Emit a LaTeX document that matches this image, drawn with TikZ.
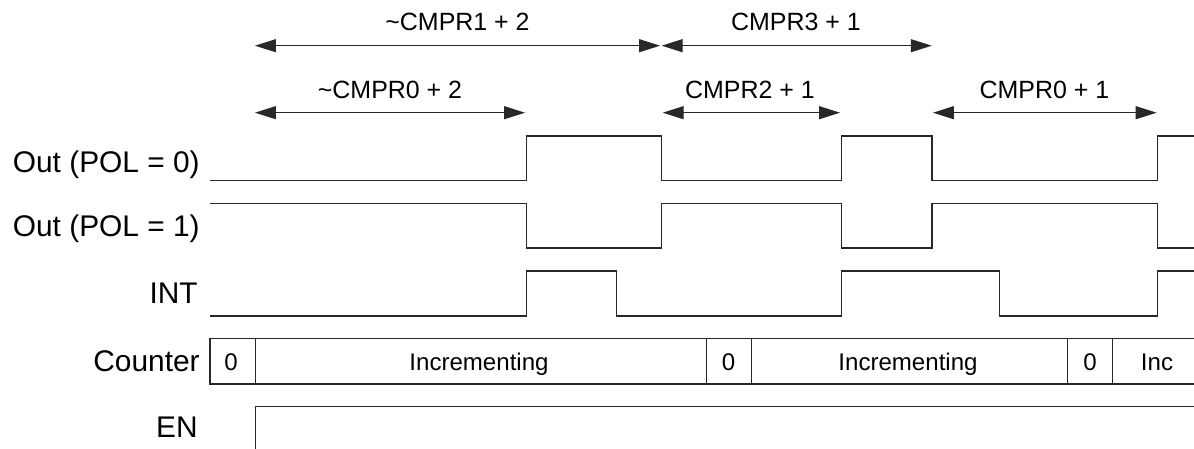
\documentclass[tikz,border=0pt]{standalone}
\usepackage{fontspec}
\setmainfont{Liberation Sans}
\usetikzlibrary{arrows.meta}
\definecolor{linec}{RGB}{40,40,40}
\begin{document}
\begin{tikzpicture}[x=0.02cm,y=-0.02cm,
  wave/.style={draw=linec, line width=0.7pt, line join=miter},
  siglabel/.style={anchor=base east, inner sep=0pt, font=\fontsize{17}{20}\selectfont},
  dimlabel/.style={anchor=base, inner sep=0pt, font=\fontsize{14.2}{17}\selectfont},
  cntlabel/.style={anchor=base, inner sep=0pt, font=\fontsize{13.7}{16}\selectfont},
  dimarrow/.style={draw=linec, line width=0.6pt,
    {Triangle[length=11.9pt,width=7.4pt]}-{Triangle[length=11.9pt,width=7.4pt]}}
]
\useasboundingbox (0,0) rectangle (1194,449);
\begin{scope}
\clip (0,0) rectangle (1194,449);

% signal names
\node[siglabel] (lout0) at (200,173) {Out (POL = 0)};
\node[siglabel] (lout1) at (200,237) {Out (POL = 1)};
\node[siglabel] (lint)  at (198,304) {INT};
\node[siglabel] (lcnt)  at (200,371.5) {Counter};
\node[siglabel] (len)   at (198,438) {EN};

% dimension arrows
\coordinate (a1l) at (255,45.7);   \coordinate (a1r) at (660,45.7);
\coordinate (a2l) at (661.7,45.7); \coordinate (a2r) at (931.7,45.7);
\coordinate (b1l) at (255,112.7);  \coordinate (b1r) at (525,112.7);
\coordinate (b2l) at (662.7,112.7);\coordinate (b2r) at (840,112.7);
\coordinate (b3l) at (933,112.7);  \coordinate (b3r) at (1156.6,112.7);
\draw[dimarrow] (a1l) -- (a1r);
\draw[dimarrow] (a2l) -- (a2r);
\draw[dimarrow] (b1l) -- (b1r);
\draw[dimarrow] (b2l) -- (b2r);
\draw[dimarrow] (b3l) -- (b3r);

\node[dimlabel] (d1) at (457.5,31) {\textasciitilde CMPR1 + 2};
\node[dimlabel] (d2) at (796,31) {CMPR3 + 1};
\node[dimlabel] (d3) at (390,98.5) {\textasciitilde CMPR0 + 2};
\node[dimlabel] (d4) at (750,98.5) {CMPR2 + 1};
\node[dimlabel] (d5) at (1044.5,98.5) {CMPR0 + 1};

% waveforms
\draw[wave] (210,180.5) -| (526.7,136) -| (661.3,180.5) -| (841.7,136)
  -| (932,180.5) -| (1157.6,136) -- (1200,136);
\draw[wave] (210,203.5) -| (526.7,248) -| (661.3,203.5) -| (841.7,248)
  -| (932,203.5) -| (1157.6,248) -- (1200,248);
\draw[wave] (210,316) -| (526.7,271) -| (616.3,316) -| (841.7,271)
  -| (999.7,316) -| (1157.6,271) -- (1200,271);

% counter bus
\draw[wave] (1200,338.5) -- (210,338.5) -- (210,384) -- (1200,384);
\foreach \xx in {255.3,706.7,751.7,1067.7,1112.7}
  \draw[wave] (\xx,338.5) -- (\xx,384);
\node[cntlabel] (c1) at (231,371) {0};
\node[cntlabel] (c2) at (479,371) {Incrementing};
\node[cntlabel] (c3) at (728.5,371) {0};
\node[cntlabel] (c4) at (908,371) {Incrementing};
\node[cntlabel] (c5) at (1090,371) {0};
\node[cntlabel] (c6) at (1157,371) {Inc};

% EN
\draw[wave] (255.3,460) -- (255.3,406.7) -- (1200,406.7);
\end{scope}
\end{tikzpicture}
\end{document}
